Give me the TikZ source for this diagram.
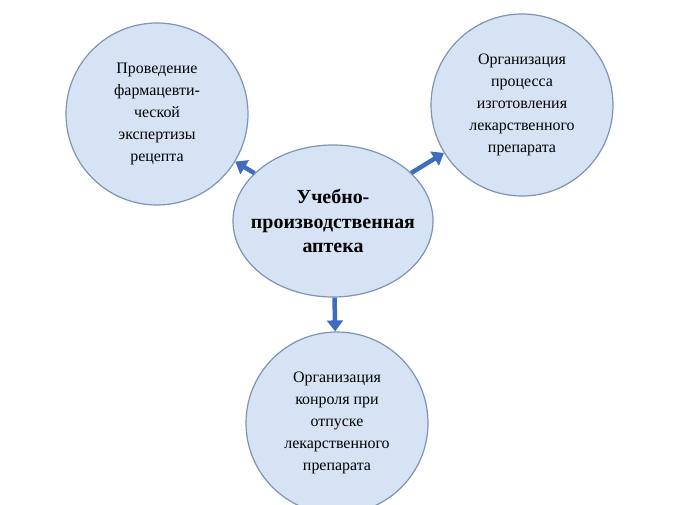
\documentclass[tikz,border=0pt]{standalone}
\usepackage{fontspec}
\setmainfont{LiberationSerif}[Extension=.ttf,UprightFont=*-Regular,BoldFont=*-Bold]
\usetikzlibrary{shapes.geometric,arrows.meta}
\definecolor{bubblefill}{RGB}{213,227,244}
\definecolor{bubbleline}{RGB}{125,148,180}
\definecolor{arrowblue}{RGB}{62,108,190}

\begin{document}
\begin{tikzpicture}[x=1bp,y=-1bp,
    bubble/.style={circle,draw=bubbleline,fill=bubblefill,line width=1.2bp,
        minimum size=182bp,inner sep=0pt,align=center,
        font=\rmfamily\fontsize{16}{22}\selectfont},
    hub/.style={ellipse,draw=bubbleline,fill=bubblefill,line width=1.2bp,
        minimum width=200bp,minimum height=152bp,inner sep=0pt},
    hubtext/.style={align=center,font=\rmfamily\fontsize{20}{25}\selectfont\bfseries},
    arr/.style={draw=arrowblue,line width=4.5bp,
        -{Triangle[width=16bp,length=11bp]}}]
    \useasboundingbox (0,0) rectangle (673,505);
    \node[bubble] (expert) at (157,114) {Проведение\\фармацевти-\\ческой\\экспертизы\\рецепта};
    \node[bubble] (make) at (522,105) {Организация\\процесса\\изготовления\\лекарственного\\препарата};
    \node[bubble] (control) at (337,423) {Организация\\конроля при\\отпуске\\лекарственного\\препарата};
    \node[hub,label={[hubtext]center:Учебно-\\производственная\\аптека}] (pharm) at (333,221) {};
    \draw[arr] (pharm) -- (expert);
    \draw[arr] (pharm) -- (make);
    \draw[arr] (pharm) -- (control);
\end{tikzpicture}
\end{document}
